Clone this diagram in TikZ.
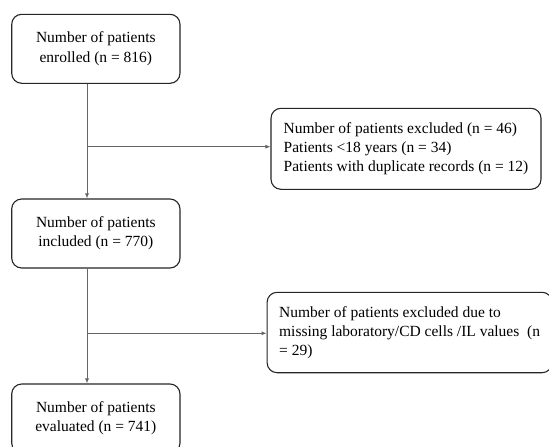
\documentclass[tikz,border=0pt]{standalone}
\usepackage{fontspec}
\setmainfont{Liberation Serif}
\usetikzlibrary{arrows.meta}
\begin{document}
\begin{tikzpicture}[x=1pt,y=-1pt,
  box/.style={draw=black!85,line width=1.1pt,rounded corners=10pt,inner sep=0pt},
  cbox/.style={box,align=center,minimum width=168.3pt,minimum height=69pt,font=\fontsize{15.5}{19.3}\selectfont},
  lbox/.style={box,align=left,font=\fontsize{15.5}{18.9}\selectfont},
  conn/.style={draw=black!60,line width=0.8pt},
  arr/.style={conn,-{Latex[length=5pt,width=4pt]}}]
\useasboundingbox (0,0) rectangle (549,447);
\fill[white] (0,0) rectangle (549,447);
\clip (0,0) rectangle (549,447);
\node[cbox] (b1) at (95.85,48.8) {Number of patients\\enrolled (n = 816)};
\node[cbox] (b3) at (95.85,233.5) {Number of patients\\included (n = 770)};
\node[cbox] (b5) at (95.85,418.5) {Number of patients\\evaluated (n = 741)};
\node[lbox,minimum width=270pt,minimum height=81pt] (b2) at (406,148.8)
  {Number of patients excluded (n = 46)\\Patients <18 years (n = 34)\\Patients with duplicate records (n = 12)};
\node[lbox,minimum width=285pt,minimum height=80.4pt] (b4) at (409.6,332.5)
  {Number of patients excluded due to\\missing laboratory/CD cells /IL values \ (n\\= 29)};
\coordinate (sx) at (87,0);
\coordinate (j1) at (87,146.7);
\coordinate (j2) at (87,333.3);
\draw[arr] (b1.south -| sx) -- (b3.north -| sx);
\draw[arr] (b3.south -| sx) -- (b5.north -| sx);
\draw[arr] (j1) -- (j1 -| b2.west);
\draw[arr] (j2) -- (j2 -| b4.west);
\end{tikzpicture}
\end{document}
